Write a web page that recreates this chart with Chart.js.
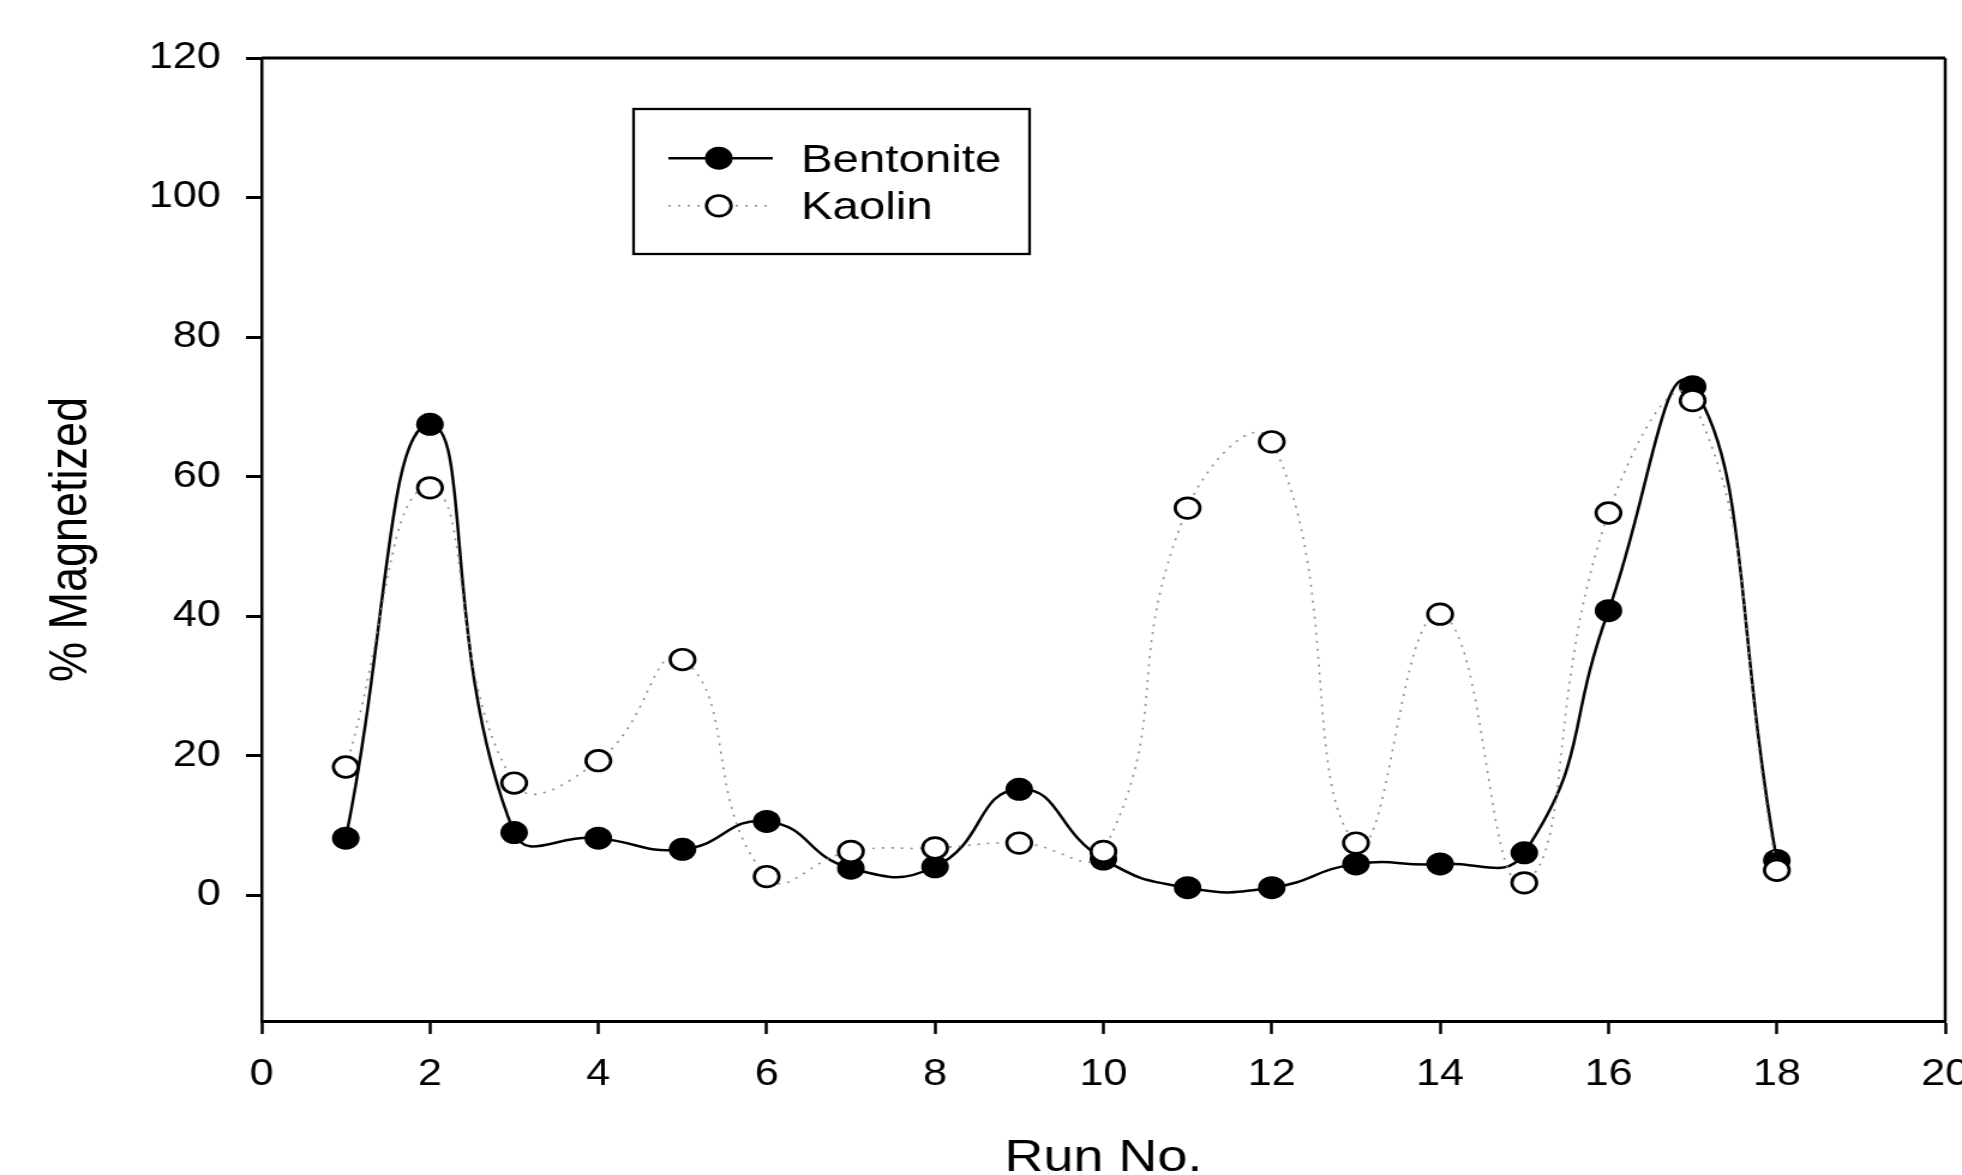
<!DOCTYPE html>
<html>
<head>
<meta charset="utf-8">
<title>% Magnetized vs Run No.</title>
<script src="https://cdn.jsdelivr.net/npm/chart.js@4.4.1/dist/chart.umd.min.js"></script>
<style>
    html, body { margin: 0; padding: 0; background: #fff; overflow: hidden; }
    #wrap { width: 1962px; height: 1175px; overflow: hidden; }
</style>
</head>
<body>
<div id="wrap">
    <!-- canvas drawn narrower, then stretched sideways like the original figure -->
    <canvas id="chart" width="1640" height="1175" style="width:1968px;height:1175px;display:block"></canvas>
</div>
<script>
const runNo = [1, 2, 3, 4, 5, 6, 7, 8, 9, 10, 11, 12, 13, 14, 15, 16, 17, 18];
const bentonite = [8.2, 67.5, 9.0, 8.2, 6.6, 10.6, 3.9, 4.1, 15.2, 5.2, 1.1, 1.1, 4.5, 4.5, 6.1, 40.8, 72.9, 5.0];
const kaolin = [18.4, 58.4, 16.1, 19.3, 33.8, 2.7, 6.3, 6.8, 7.5, 6.3, 55.5, 65.0, 7.5, 40.3, 1.8, 54.8, 70.9, 3.6];
const xTicks = [0, 2, 4, 6, 8, 10, 12, 14, 16, 18, 20];
const yTicks = [0, 20, 40, 60, 80, 100, 120];

const FONT = "'Liberation Sans', Arial, sans-serif";

function toPoints(ys) {
    return runNo.map((x, i) => ({ x: x, y: ys[i] }));
}

// box round the plot (top and right sides)
const frame = {
    id: 'frame',
    afterDatasetsDraw(chart) {
        const { ctx, chartArea: a } = chart;
        ctx.save();
        ctx.strokeStyle = '#000';
        ctx.lineWidth = 3;
        ctx.beginPath();
        ctx.moveTo(a.left, a.top);
        ctx.lineTo(a.right, a.top);
        ctx.stroke();
        ctx.lineWidth = 2.5;
        ctx.beginPath();
        ctx.moveTo(a.right, a.top);
        ctx.lineTo(a.right, a.bottom);
        ctx.stroke();
        ctx.restore();
    }
};

// boxed legend, as in the figure
const boxLegend = {
    id: 'boxLegend',
    afterDraw(chart) {
        const ctx = chart.ctx;
        const box = { left: 528, top: 109, right: 858, bottom: 254 };
        const rows = [171.7, 219.3];
        ctx.save();
        ctx.strokeStyle = '#000';
        ctx.lineWidth = 2.3;
        ctx.strokeRect(box.left, box.top, box.right - box.left, box.bottom - box.top);
        chart.data.datasets.forEach((ds, i) => {
            const y = rows[i] - 13.5;
            ctx.save();
            ctx.strokeStyle = ds.borderColor;
            ctx.lineWidth = ds.borderWidth;
            ctx.setLineDash(ds.borderDash || []);
            ctx.beginPath();
            ctx.moveTo(557, y);
            ctx.lineTo(644, y);
            ctx.stroke();
            ctx.restore();
            ctx.beginPath();
            ctx.arc(599, y, ds.pointRadius, 0, Math.PI * 2);
            ctx.fillStyle = ds.pointBackgroundColor;
            ctx.fill();
            if (ds.pointBorderWidth) {
                ctx.lineWidth = ds.pointBorderWidth;
                ctx.strokeStyle = ds.pointBorderColor;
                ctx.stroke();
            }
            ctx.fillStyle = '#000';
            ctx.font = `39.5px ${FONT}`;
            ctx.textBaseline = 'alphabetic';
            ctx.textAlign = 'left';
            ctx.fillText(ds.label, 667.5, rows[i]);
        });
        ctx.restore();
    }
};

const ctx = document.getElementById('chart').getContext('2d');
new Chart(ctx, {
    type: 'line',
    data: {
        datasets: [
            {
                label: 'Bentonite',
                data: toPoints(bentonite),
                borderColor: '#000',
                borderWidth: 2.5,
                tension: 0.5,
                pointRadius: 11.5,
                pointBackgroundColor: '#000',
                pointBorderColor: '#000',
                pointBorderWidth: 0,
                order: 1
            },
            {
                label: 'Kaolin',
                data: toPoints(kaolin),
                borderColor: '#8c8c8c',
                borderWidth: 1.6,
                borderDash: [2, 6],
                tension: 0.5,
                pointRadius: 10.3,
                pointBackgroundColor: '#fff',
                pointBorderColor: '#000',
                pointBorderWidth: 2.7,
                order: 0
            }
        ]
    },
    options: {
        responsive: false,
        animation: false,
        events: [],
        layout: { padding: { top: 58, left: 0, right: 19, bottom: 0 } },
        plugins: {
            legend: { display: false },
            tooltip: { enabled: false }
        },
        scales: {
            x: {
                type: 'linear',
                position: 'bottom',
                min: 0,
                max: 20,
                afterBuildTicks: s => { s.ticks = xTicks.map(v => ({ value: v })); },
                afterFit: s => { s.height = 154; s.paddingLeft = 0; s.paddingRight = 0; },
                ticks: {
                    color: '#000',
                    font: { family: FONT, size: 36 },
                    padding: 19,
                    maxRotation: 0,
                    autoSkip: false
                },
                grid: {
                    drawOnChartArea: false,
                    drawTicks: true,
                    tickLength: 13,
                    tickWidth: 2.5,
                    tickColor: '#000'
                },
                border: { display: true, color: '#000', width: 3 },
                title: {
                    display: true,
                    text: 'Run No.',
                    color: '#000',
                    font: { family: FONT, size: 45, lineHeight: 0.7 },
                    padding: { top: 0, bottom: 1 }
                }
            },
            y: {
                type: 'linear',
                position: 'left',
                min: -18,
                max: 120,
                afterBuildTicks: s => { s.ticks = yTicks.map(v => ({ value: v })); },
                afterFit: s => { s.width = 218; s.paddingTop = 0; s.paddingBottom = 0; },
                ticks: {
                    color: '#000',
                    font: { family: FONT, size: 36 },
                    padding: 21
                },
                grid: {
                    drawOnChartArea: false,
                    drawTicks: true,
                    tickLength: 13,
                    tickWidth: 3,
                    tickColor: '#000'
                },
                border: { display: true, color: '#000', width: 2.5 },
                title: {
                    display: true,
                    text: '% Magnetized',
                    color: '#000',
                    font: { family: FONT, size: 45 },
                    padding: { top: 33, bottom: 0 }
                }
            }
        }
    },
    plugins: [frame, boxLegend]
});
</script>
</body>
</html>
